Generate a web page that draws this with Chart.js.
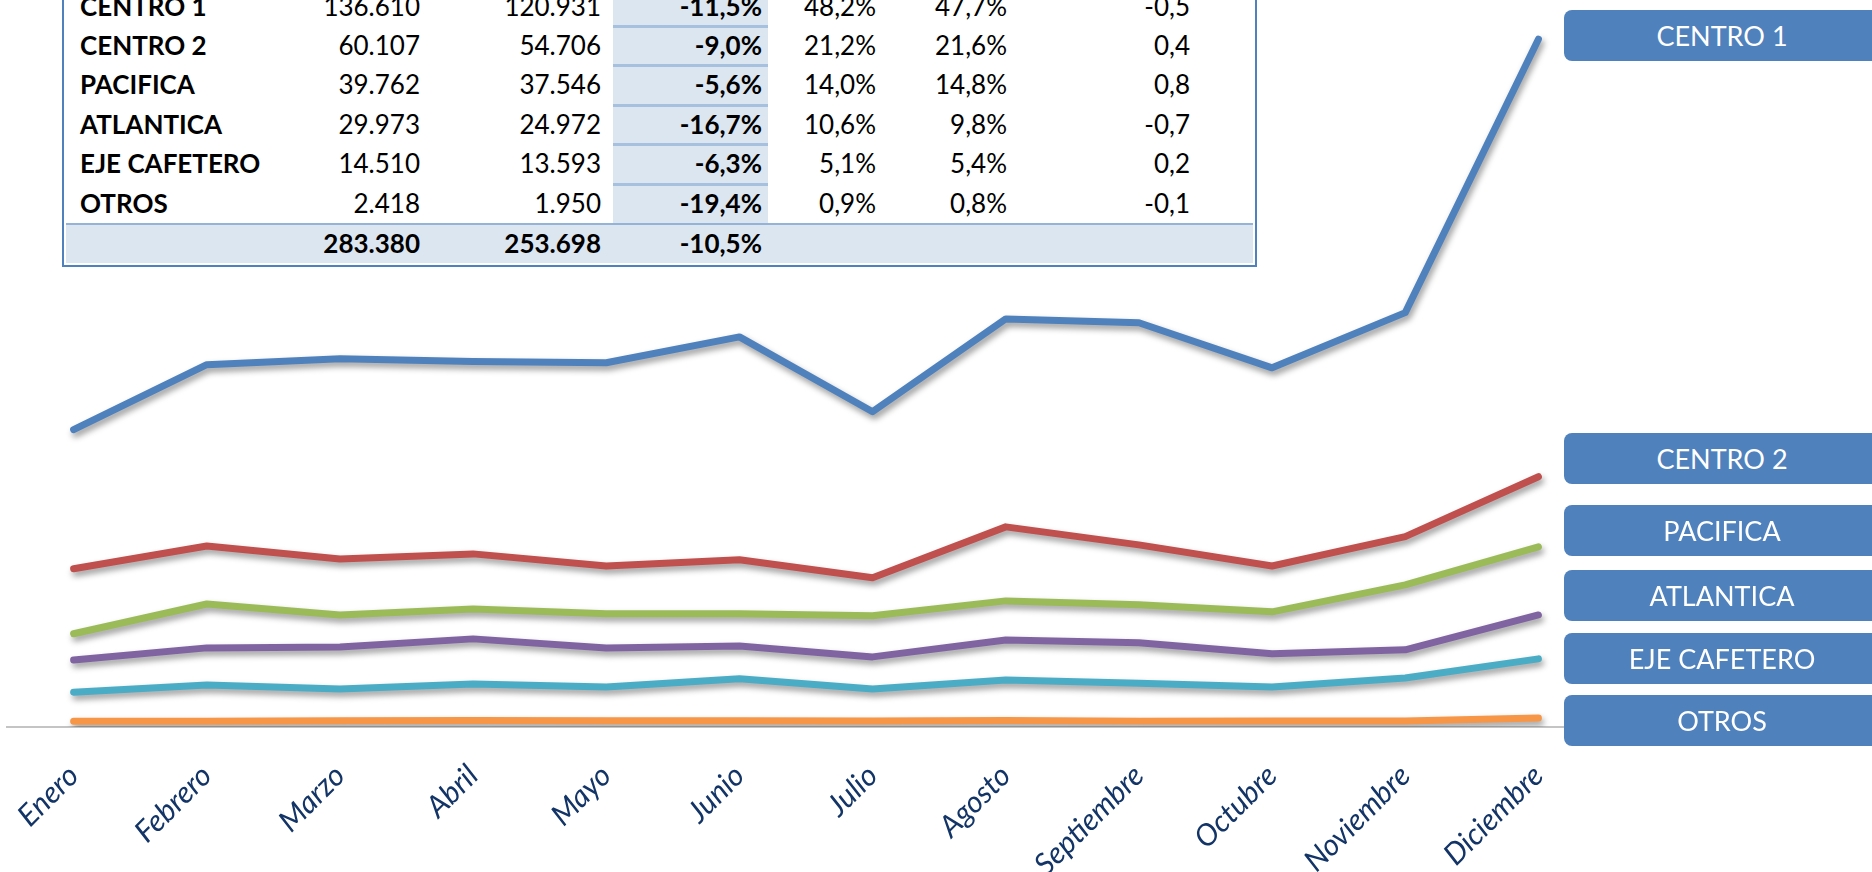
<!DOCTYPE html>
<html>
<head>
<meta charset="utf-8">
<script src="https://cdn.jsdelivr.net/npm/chart.js@4/dist/chart.umd.min.js"></script>
<style>
  html, body { margin:0; padding:0; background:#fff; overflow:hidden; }
  #wrap { position:relative; width:1872px; height:872px; overflow:hidden; font-family:Lato, "Open Sans", sans-serif; }
  #chart { position:absolute; left:0; top:0; }
  #tbl { position:absolute; left:62px; top:-60px; width:1191px; height:323px; border:2px solid #4F81BD; background:#fff; }
  .cell { position:absolute; font-size:26px; color:#000; line-height:39px; white-space:nowrap; }
  .b { font-weight:bold; }
  .varcol { position:absolute; background:#DCE6F1; }
  .sep { position:absolute; height:3px; background:#A7C0DE; }
  .tag { position:absolute; left:1564px; width:316px; height:51px; border-radius:8px; background:#4F81BD;
         color:#fff; font-size:27px; line-height:51px; text-align:center; }
</style>
</head>
<body>
<div id="wrap">
  <canvas id="chart" width="1872" height="872"></canvas>
  <div id="tbl"></div>
  <div id="tags"></div>
</div>
<script>
/* ── DATA ──────────────────────────────── */
const MONTHS = ['Enero','Febrero','Marzo','Abril','Mayo','Junio','Julio','Agosto','Septiembre','Octubre','Noviembre','Diciembre'];

const CENTRO_1     = [7590, 9250, 9400, 9330, 9300, 9960, 8050, 10420, 10320, 9170, 10580, 17560];
const CENTRO_2     = [4040, 4620, 4290, 4420, 4110, 4270, 3810, 5110, 4650, 4110, 4860, 6390];
const PACIFICA     = [2380, 3140, 2860, 3010, 2890, 2890, 2840, 3220, 3120, 2940, 3630, 4600];
const ATLANTICA    = [1710, 2020, 2040, 2250, 2020, 2070, 1790, 2220, 2150, 1870, 1970, 2860];
const EJE_CAFETERO = [890, 1070, 970, 1100, 1020, 1230, 970, 1200, 1120, 1020, 1250, 1740];
const OTROS        = [145, 150, 160, 165, 160, 160, 155, 165, 150, 155, 155, 230];

const SERIES_NAMES  = ['CENTRO 1','CENTRO 2','PACIFICA','ATLANTICA','EJE CAFETERO','OTROS'];
const SERIES_COLORS = ['#4F81BD','#C0504D','#9BBB59','#8064A2','#4BACC6','#F79646'];
const SERIES_DATA   = [CENTRO_1, CENTRO_2, PACIFICA, ATLANTICA, EJE_CAFETERO, OTROS];

// summary table
const TBL_Y1    = ['136.610','60.107','39.762','29.973','14.510','2.418'];
const TBL_Y2    = ['120.931','54.706','37.546','24.972','13.593','1.950'];
const TBL_VAR   = ['-11,5%','-9,0%','-5,6%','-16,7%','-6,3%','-19,4%'];
const TBL_SH1   = ['48,2%','21,2%','14,0%','10,6%','5,1%','0,9%'];
const TBL_SH2   = ['47,7%','21,6%','14,8%','9,8%','5,4%','0,8%'];
const TBL_DIFF  = ['-0,5','0,4','0,8','-0,7','0,2','-0,1'];
const TBL_TOTAL = ['283.380','253.698','-10,5%'];

// tag boxes on the right (top y)
const TAG_TOPS = [10, 433, 505, 570, 633, 695];

/* ── TABLE ─────────────────────────────── */
function buildTable() {
  const t = document.getElementById('tbl');
  const OFF = 62;           // table top is at -60 (+2 border)
  const ROW_H = 39.4;
  const firstTop = -15.5;
  const bx = x => x - 64;   // page x -> table inner x
  let html = `<div class="varcol" style="left:${bx(613)}px;width:155px;top:0;height:${firstTop + 6*ROW_H + OFF}px"></div>`;
  const cell = (txt, x, y, align, bold) => {
    const pos = align === 'left' ? `left:${bx(x)}px` : `right:${1191 - bx(x)}px`;
    return `<div class="cell${bold ? ' b' : ''}" style="${pos};top:${y}px">${txt}</div>`;
  };
  SERIES_NAMES.forEach((n, i) => {
    const top = firstTop + i*ROW_H + OFF - 2;
    html += cell(n, 80, top, 'left', true);
    html += cell(TBL_Y1[i], 420, top, 'right');
    html += cell(TBL_Y2[i], 601, top, 'right');
    html += cell(TBL_VAR[i], 762, top, 'right', true);
    html += cell(TBL_SH1[i], 876, top, 'right');
    html += cell(TBL_SH2[i], 1007, top, 'right');
    html += cell(TBL_DIFF[i], 1190, top, 'right');
    if (i < 5) html += `<div class="sep" style="left:${bx(613)}px;width:155px;top:${firstTop + (i+1)*ROW_H + OFF - 3}px"></div>`;
  });
  const totTop = firstTop + 6*ROW_H + OFF - 2;
  html += `<div style="position:absolute;left:2px;right:2px;top:${totTop}px;bottom:2px;background:#DCE6F1;border-top:2px solid #95B3D7"></div>`;
  html += cell(TBL_TOTAL[0], 420, totTop + 1, 'right', true);
  html += cell(TBL_TOTAL[1], 601, totTop + 1, 'right', true);
  html += cell(TBL_TOTAL[2], 762, totTop + 1, 'right', true);
  t.innerHTML = html;
}

function buildTags() {
  document.getElementById('tags').innerHTML = SERIES_NAMES.map((n, i) =>
    `<div class="tag" style="top:${TAG_TOPS[i]}px">${n}</div>`).join('');
}

/* ── CHART ─────────────────────────────── */
const lineShadow = {
  id: 'lineShadow',
  beforeDatasetDraw(chart) {
    const c = chart.ctx;
    c.save();
    c.shadowColor = 'rgba(0,0,0,0.4)';
    c.shadowBlur = 6;
    c.shadowOffsetX = 2;
    c.shadowOffsetY = 4;
  },
  afterDatasetDraw(chart) { chart.ctx.restore(); }
};

new Chart(document.getElementById('chart'), {
  type: 'line',
  data: {
    labels: MONTHS,
    datasets: SERIES_NAMES.map((name, i) => ({
      label: name,
      data: SERIES_DATA[i],
      borderColor: SERIES_COLORS[i],
      backgroundColor: SERIES_COLORS[i],
      borderWidth: 7,
      borderCapStyle: 'round',
      borderJoinStyle: 'round',
      pointRadius: 0,
      tension: 0,
    }))
  },
  options: {
    responsive: false,
    animation: false,
    devicePixelRatio: 1,
    layout: { padding: { left: 6, right: 267, top: 22, bottom: 0 } },
    plugins: { legend: { display: false }, tooltip: { enabled: false } },
    scales: {
      x: {
        offset: true,
        grid: { display: false },
        border: { color: '#C4C4C4', width: 2 },
        ticks: {
          minRotation: 45, maxRotation: 45, padding: 23, autoSkip: false,
          color: '#123466',
          font: { family: 'Lato', size: 30, style: 'italic' }
        },
        afterFit(scale) { scale.height = 145; }
      },
      y: { display: false, min: 0, max: 18000 }
    }
  },
  plugins: [lineShadow]
});

buildTable();
buildTags();
</script>
</body>
</html>
